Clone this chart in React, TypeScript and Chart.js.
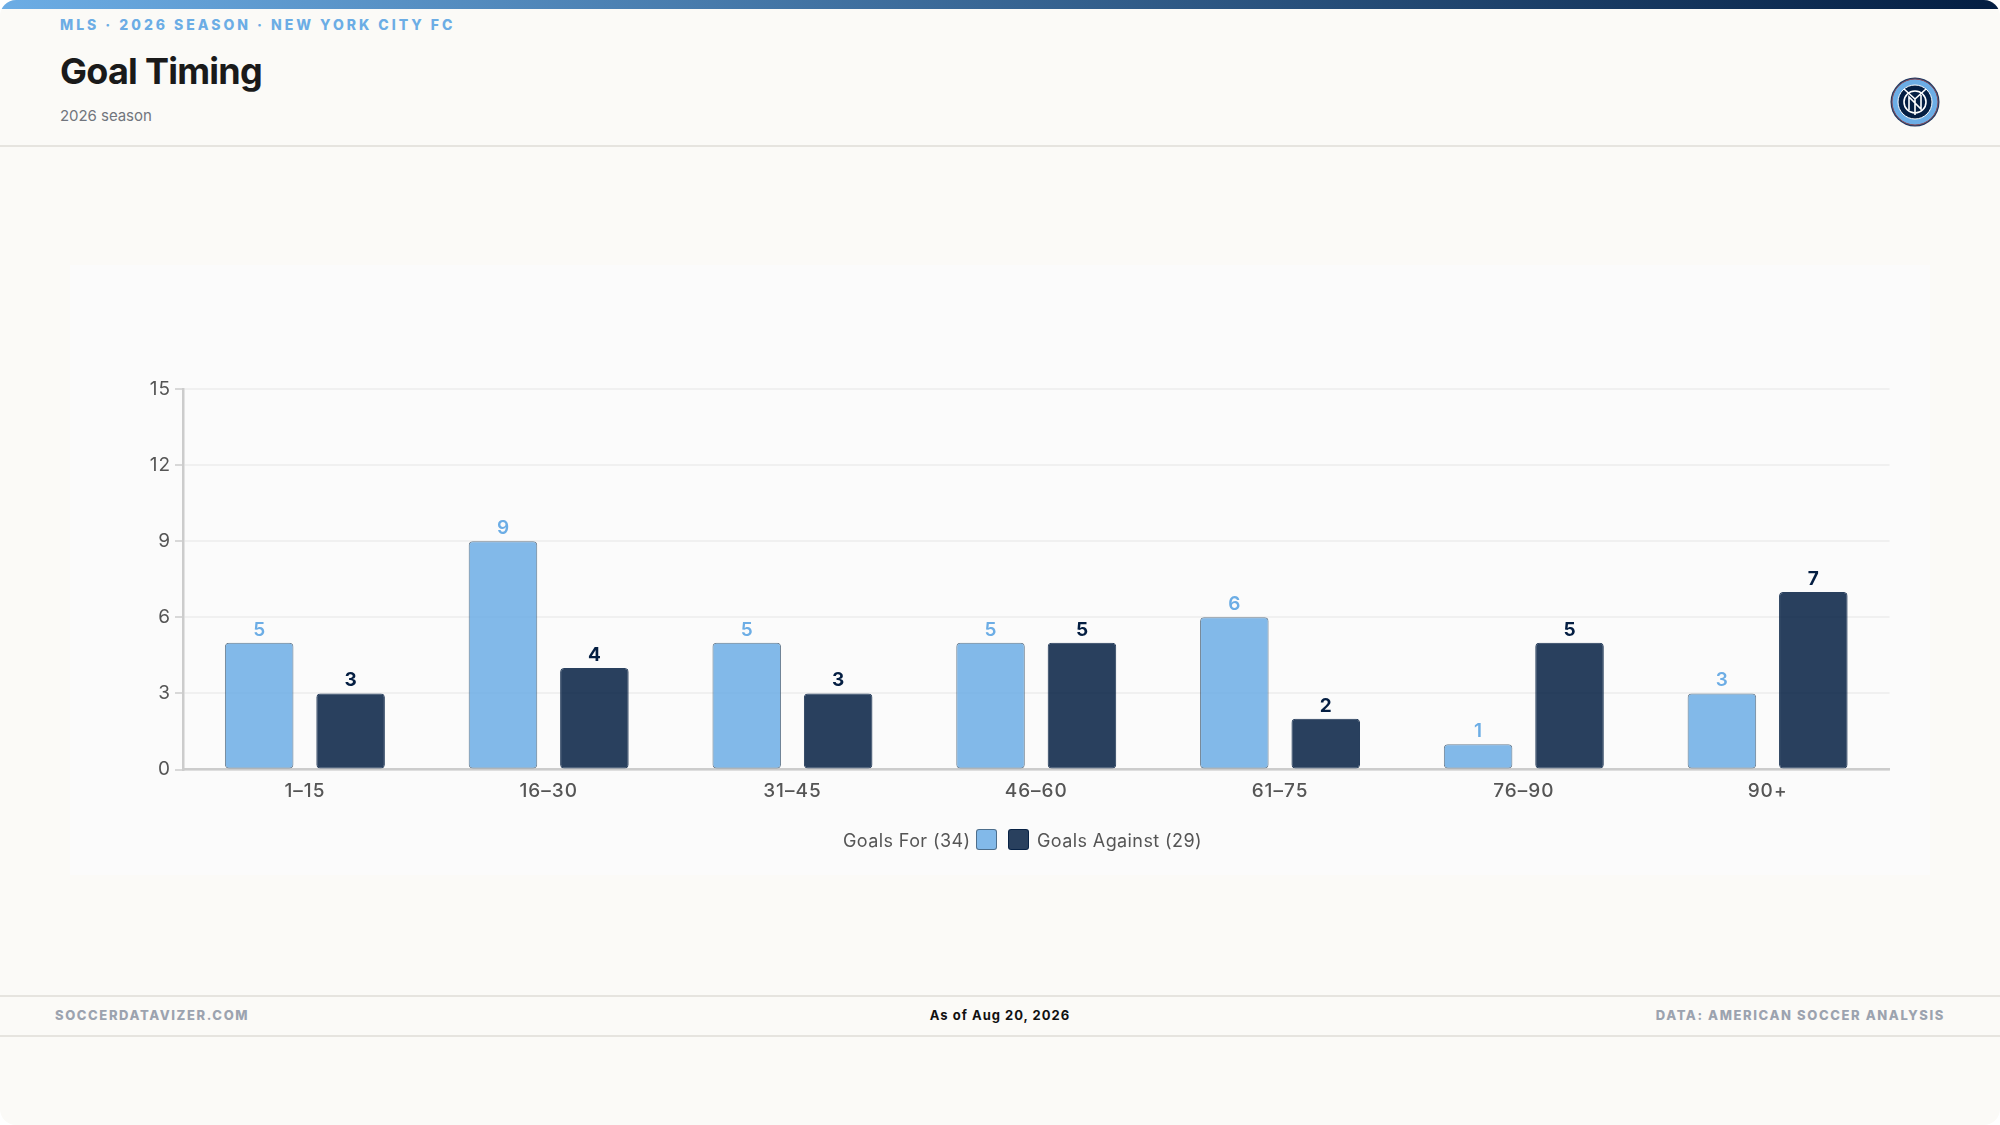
import React, { useRef, useEffect } from 'react';
import { Chart, registerables } from 'chart.js';

Chart.register(...registerables);

const categories = ['1–15', '16–30', '31–45', '46–60', '61–75', '76–90', '90+'];
const goalsFor = [5, 9, 5, 5, 6, 1, 3];
const goalsAgainst = [3, 4, 3, 5, 2, 5, 7];
const yMax = 15;
const yStep = 3;

const FONT = 'Inter, sans-serif';
const LIGHT = '#6CADE5';
const NAVY = '#041E42';
const LIGHT_FILL = 'rgba(108, 173, 229, 0.85)';
const NAVY_FILL = 'rgba(4, 30, 66, 0.85)';
const LIGHT_EDGE = 'rgba(60, 85, 110, 0.75)';
const NAVY_EDGE = 'rgba(4, 30, 66, 0.85)';

// Wider tracking for the axis text, Chart.js has no option for it
const axisTracking = {
  id: 'axisTracking',
  beforeDraw(chart: Chart) {
    (chart.ctx as any).letterSpacing = '1px';
  },
};

// Draws the numbers above the bars
const barValues = {
  id: 'barValues',
  afterDatasetsDraw(chart: Chart) {
    const { ctx } = chart;
    ctx.save();
    (ctx as any).letterSpacing = '0px';
    ctx.textAlign = 'center';
    ctx.textBaseline = 'alphabetic';
    chart.data.datasets.forEach((ds, i) => {
      ctx.fillStyle = i === 0 ? LIGHT : NAVY;
      ctx.font = `${i === 0 ? 600 : 700} 19px ${FONT}`;
      chart.getDatasetMeta(i).data.forEach((bar, j) => {
        ctx.fillText(String(ds.data[j]), bar.x, bar.y - 7);
      });
    });
    ctx.restore();
  },
};

const abs = (s: React.CSSProperties): React.CSSProperties => ({ position: 'absolute', whiteSpace: 'nowrap', ...s });

const Crest: React.FC = () => (
  <svg width="50" height="50" viewBox="0 0 50 50" style={abs({ left: 1890, top: 77 })}>
    <circle cx="25" cy="25" r="24.5" fill="#1d3a63" />
    <circle cx="25" cy="25" r="23" fill="#6CADE5" stroke="#8a4a55" strokeWidth="1" />
    <circle cx="25" cy="25" r="17" fill="#041E42" stroke="#ffffff" strokeWidth="1" />
    <circle cx="25" cy="25" r="11" fill="none" stroke="#ffffff" strokeWidth="1.6" />
    <path d="M14 12 L25 22 L36 12 M25 22 V38 M19 33 V20 L31 32 V18" fill="none" stroke="#ffffff" strokeWidth="1.6" />
  </svg>
);

export default function App() {
  const chartRef = useRef<HTMLCanvasElement>(null);

  useEffect(() => {
    if (!chartRef.current) return;
    document.body.style.margin = '0';
    const chart = new Chart(chartRef.current, {
      type: 'bar',
      data: {
        labels: categories,
        datasets: [
          {
            label: 'Goals For',
            data: goalsFor,
            backgroundColor: LIGHT_FILL,
            borderColor: LIGHT_EDGE,
            borderWidth: 1,
            borderRadius: 4,
            borderSkipped: false,
          },
          {
            label: 'Goals Against',
            data: goalsAgainst,
            backgroundColor: NAVY_FILL,
            borderColor: NAVY_EDGE,
            borderWidth: 1,
            borderRadius: 4,
            borderSkipped: false,
          },
        ],
      },
      plugins: [axisTracking, barValues],
      options: {
        responsive: false,
        animation: false,
        layout: { padding: { top: 124, right: 40.5, bottom: 0, left: 0 } },
        datasets: { bar: { categoryPercentage: 0.75, barPercentage: 0.75 } },
        plugins: { legend: { display: false }, tooltip: { enabled: false } },
        scales: {
          x: {
            grid: { display: false, drawTicks: false },
            border: { color: '#cccccc', width: 2.5 },
            ticks: { color: '#555555', padding: 10, font: { family: FONT, size: 19, weight: 500 } },
            afterFit: (scale: any) => { scale.height = 105.5; },
          },
          y: {
            min: 0,
            max: yMax,
            ticks: { stepSize: yStep, color: '#555555', padding: 4, font: { family: FONT, size: 19 } },
            grid: { color: '#f0f0f0', lineWidth: 2, tickLength: 8, tickColor: '#d8d8d8' },
            border: { color: '#cccccc', width: 2.5 },
            afterFit: (scale: any) => { scale.width = 113; },
          },
        },
      },
    });
    return () => chart.destroy();
  }, []);

  const totalFor = goalsFor.reduce((a, b) => a + b, 0);
  const totalAgainst = goalsAgainst.reduce((a, b) => a + b, 0);
  const legendText: React.CSSProperties = { fontSize: 18, color: '#555555', letterSpacing: 0.4, lineHeight: '22px', top: 830 };
  const footer: React.CSSProperties = { top: 1007, fontSize: 13, fontWeight: 800, lineHeight: '16px', letterSpacing: 1.6, color: '#9ca3af' };

  return (
    <div style={{ position: 'relative', width: 2000, height: 1125, background: '#ffffff', fontFamily: FONT, overflow: 'hidden' }}>
      <div style={abs({ left: 0, top: 0, width: 2000, height: 1125, background: '#FBFAF7', borderRadius: 16, overflow: 'hidden' })}>
        <div style={abs({ left: 0, top: 0, width: 2000, height: 8.5, background: `linear-gradient(90deg, ${LIGHT}, ${NAVY})` })} />
      </div>

      <div style={abs({ left: 60, top: 16, fontSize: 14, fontWeight: 800, letterSpacing: 2.98, color: LIGHT, lineHeight: '17px' })}>
        MLS · 2026 SEASON · NEW YORK CITY FC
      </div>
      <div style={abs({ left: 60, top: 49, fontSize: 36, fontWeight: 700, color: '#1a1a1a', lineHeight: '44px', letterSpacing: -0.75 })}>Goal Timing</div>
      <div style={abs({ left: 60, top: 106, fontSize: 15, color: '#71757d', lineHeight: '20px', letterSpacing: -0.05 })}>2026 season</div>
      <Crest />
      <div style={abs({ left: 0, top: 145, width: 2000, height: 2, background: '#e6e4df' })} />

      <div style={abs({ left: 70, top: 265, width: 1860, height: 610, background: '#FBFBFB' })}>
        <canvas ref={chartRef} width={1860} height={610} style={{ display: 'block' }} />
      </div>

      <div style={abs({ ...legendText, left: 843 })}>{`Goals For (${totalFor})`}</div>
      <div style={abs({ left: 976, top: 829, width: 21, height: 21, boxSizing: 'border-box', background: LIGHT_FILL, border: `1px solid ${LIGHT_EDGE}`, borderRadius: 3 })} />
      <div style={abs({ left: 1008, top: 829, width: 21, height: 21, boxSizing: 'border-box', background: NAVY_FILL, border: `1px solid ${NAVY_EDGE}`, borderRadius: 3 })} />
      <div style={abs({ ...legendText, left: 1037 })}>{`Goals Against (${totalAgainst})`}</div>

      <div style={abs({ left: 0, top: 995, width: 2000, height: 2, background: '#e6e4df' })} />
      <div style={abs({ ...footer, left: 55 })}>SOCCERDATAVIZER.COM</div>
      <div style={abs({ ...footer, left: 0, width: 2000, textAlign: 'center', color: '#111111', letterSpacing: 1.0, fontWeight: 700 })}>As of Aug 20, 2026</div>
      <div style={abs({ ...footer, right: 55 })}>DATA: AMERICAN SOCCER ANALYSIS</div>
      <div style={abs({ left: 0, top: 1035, width: 2000, height: 2, background: '#e6e4df' })} />
    </div>
  );
}
